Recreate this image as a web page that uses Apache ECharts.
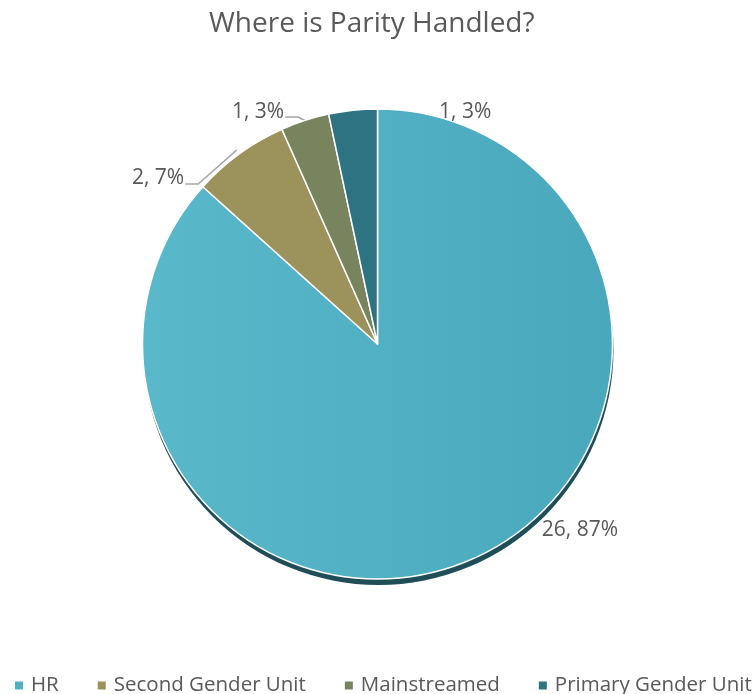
<!DOCTYPE html>
<html>
<head>
<meta charset="utf-8">
<title>Where is Parity Handled?</title>
<script src="https://cdn.jsdelivr.net/npm/echarts@6/dist/echarts.min.js"></script>
<style>
  html, body { margin: 0; padding: 0; background: #fff; }
  #chart { width: 755px; height: 694px; }
</style>
</head>
<body>
<div id="chart"></div>
<script>
// Survey answers: where parity work is handled
const categories = ['HR', 'Second Gender Unit', 'Mainstreamed', 'Primary Gender Unit'];
const counts = [26, 2, 1, 1];
const colors = ['#52afc4', '#9c935c', '#77845e', '#2d7381'];

// Pie geometry
const CX = 377.5, CY = 344, R = 235;
const SIDE_DEPTH = 6;          // thickness of the dark rim under the disc
const SIDE_COLOR = '#1f4e59';

// Label placement: polar angle (deg, counter-clockwise from 3 o'clock) and distance in radii
const labelAngle = [-42.6, 142.9, 117.25, 69.3];
const labelDist = [1.170, 1.171, 1.11, 1.055];
const showLine = [false, true, true, false];
const lineDrop = [0, 6, 5, 0];       // leader line sits just under the text centre
const lineReach = [1, 1.02, 1.0, 1]; // where the leader meets the slice, in radii

const total = counts.reduce((a, b) => a + b, 0);
function midAngle(i) {
  let start = 90;
  for (let k = 0; k < i; k++) start -= counts[k] / total * 360;
  return start - counts[i] / total * 180;
}
function polar(angDeg, dist) {
  const a = angDeg * Math.PI / 180;
  return [CX + Math.cos(a) * dist, CY - Math.sin(a) * dist];
}

const chart = echarts.init(document.getElementById('chart'), null, { renderer: 'canvas' });

const topData = categories.map((name, i) => ({
  name: name,
  value: counts[i],
  itemStyle: {
    color: i === 0
      ? {
          type: 'linear', x: 0, y: 0, x2: 1, y2: 0,
          colorStops: [{ offset: 0, color: '#5ab8cb' }, { offset: 1, color: '#4aa8bd' }]
        }
      : colors[i]
  },
  labelLine: { show: showLine[i] }
}));

// Same slices, drawn first and shifted down to form the disc's side wall
const sideData = categories.map((name, i) => ({
  name: name,
  value: counts[i],
  itemStyle: { color: SIDE_COLOR }
}));

chart.setOption({
  animation: false,
  title: {
    text: 'Where is Parity Handled?',
    left: 204,
    top: 5,
    textStyle: {
      fontFamily: 'Open Sans',
      fontSize: 28,
      fontWeight: 'normal',
      color: '#595959'
    }
  },
  legend: {
    top: 670,
    left: 10,
    width: 900,
    icon: 'rect',
    itemWidth: 8,
    itemHeight: 8,
    itemGap: 39,
    data: categories.map((name, i) => ({ name: name, itemStyle: { color: colors[i] } })),
    textStyle: {
      fontFamily: 'Open Sans',
      fontSize: 20.5,
      color: '#595959',
      padding: [0, 0, 0, 3]
    }
  },
  series: [
    {
      type: 'pie',
      name: 'side',
      silent: true,
      center: [CX + 1, CY + SIDE_DEPTH],
      radius: R,
      startAngle: 90,
      clockwise: true,
      label: { show: false },
      labelLine: { show: false },
      emphasis: { disabled: true },
      z: 1,
      data: sideData
    },
    {
      type: 'pie',
      center: [CX, CY],
      radius: R,
      startAngle: 90,
      clockwise: true,
      percentPrecision: 0,
      avoidLabelOverlap: false,
      z: 2,
      itemStyle: { borderColor: '#ffffff', borderWidth: 1.5 },
      label: {
        show: true,
        position: 'outside',
        formatter: '{c}, {d}%',
        fontFamily: 'Open Sans',
        fontSize: 21,
        color: '#595959'
      },
      labelLine: {
        show: true,
        showAbove: true,
        lineStyle: { color: '#a6a6a6', width: 1.5 }
      },
      labelLayout: function (params) {
        const i = params.dataIndex;
        const pos = polar(labelAngle[i], labelDist[i] * R);
        const out = { x: pos[0], y: pos[1], align: 'center', verticalAlign: 'middle' };
        if (showLine[i]) {
          const w = params.labelRect.width;
          const start = polar(midAngle(i), R * lineReach[i]);
          const end = [pos[0] + w / 2 + 1, pos[1] + lineDrop[i]];
          const elbow = [end[0] + 13, end[1]];
          out.labelLinePoints = [start, elbow, end];
        }
        return out;
      },
      data: topData
    }
  ]
});
</script>
</body>
</html>
